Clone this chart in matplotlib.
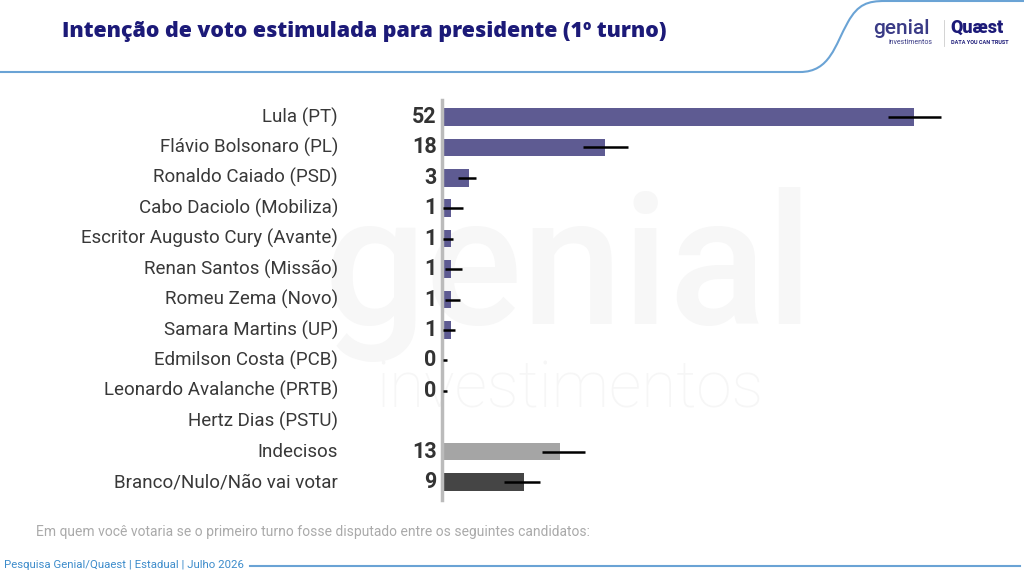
import numpy as np
import matplotlib.pyplot as plt
from matplotlib.path import Path
from matplotlib.patches import PathPatch

plt.rcParams['font.family'] = ['Roboto', 'DejaVu Sans']

# data
candidates = ['Lula (PT)', 'Flávio Bolsonaro (PL)', 'Ronaldo Caiado (PSD)',
              'Cabo Daciolo (Mobiliza)', 'Escritor Augusto Cury (Avante)',
              'Renan Santos (Missão)', 'Romeu Zema (Novo)', 'Samara Martins (UP)',
              'Edmilson Costa (PCB)', 'Leonardo Avalanche (PRTB)', 'Hertz Dias (PSTU)',
              'Indecisos', 'Branco/Nulo/Não vai votar']
values = [52, 18, 3, 1, 1, 1, 1, 1, 0, 0, None, 13, 9]
bar_len = [52.0, 18.0, 3.0, 1.0, 1.0, 1.0, 1.0, 1.0, 0.0, 0.0, 0.0, 13.0, 9.0]
err_low = [49.1, 15.5, 1.8, 0.1, 0.1, 0.3, 0.3, 0.1, 0.1, 0.1, None, 11.0, 6.8]
err_high = [55.0, 20.5, 3.7, 2.3, 1.2, 2.2, 2.0, 1.4, 0.5, 0.5, None, 15.8, 10.8]

purple = '#5e5b92'
colors = [purple] * 11 + ['#a5a5a5', '#454545']

fig = plt.figure(figsize=(10.24, 5.75), dpi=100)
W, H = 1024, 575

# background layer: header curve, footer line, watermark
bg = fig.add_axes([0, 0, 1, 1], zorder=-1)
bg.set_xlim(0, W)
bg.set_ylim(H, 0)
bg.axis('off')
curve = Path([(0, 72), (800, 72), (830, 72), (835, 45), (848, 22), (858, 4), (868, 1), (885, 1), (1024, 1)],
             [Path.MOVETO, Path.LINETO, Path.CURVE4, Path.CURVE4, Path.CURVE4,
              Path.CURVE4, Path.CURVE4, Path.CURVE4, Path.LINETO])
bg.add_patch(PathPatch(curve, fill=False, edgecolor='#6aa3d5', lw=1.5))
bg.plot([250, 1020], [566, 566], color='#6aa3d5', lw=1.5)
bg.plot([944, 944], [20, 46], color='#cccccc', lw=0.6)
bg.text(568, 275, 'genial', fontsize=130, color='#f7f7f7',
        ha='center', va='center', fontweight='medium')
bg.text(570, 390, 'investimentos', fontsize=46, color='#f6f6f6',
        ha='center', va='center', fontweight='light')

fig.text(62 / W, 1 - 31 / H, 'Intenção de voto estimulada para presidente (1º turno)',
         fontsize=15.4, fontweight='heavy', color='#1c1a78', va='center', ha='left',
         family='Open Sans')
fig.text(873 / W, 1 - 29 / H, 'genial', fontsize=15, fontweight='medium', color='#3a3b86',
         va='center', ha='left')
fig.text(889 / W, 1 - 42 / H, 'investimentos', fontsize=5, color='#3a3b86', va='center', ha='left')
fig.text(950 / W, 1 - 28 / H, 'Quæst', fontsize=13, fontweight='black', color='#1c1a78',
         va='center', ha='left')
fig.text(951 / W, 1 - 42 / H, 'DATA YOU CAN TRUST', fontsize=4, fontweight='bold',
         color='#1c1a78', va='center', ha='left')

fig.text(36 / W, 1 - 532 / H,
         'Em quem você votaria se o primeiro turno fosse disputado entre os seguintes candidatos:',
         fontsize=10, color='#aaaaaa', va='center', ha='left')
fig.text(4 / W, 1 - 565 / H, 'Pesquisa Genial/Quaest | Estadual | Julho 2026',
         fontsize=8.2, color='#3d8ccb', va='center', ha='left')

# main chart
ax_left, ax_right, ax_top, ax_bot = 442, 1000, 100, 500
ax = fig.add_axes([ax_left / W, 1 - ax_bot / H, (ax_right - ax_left) / W, (ax_bot - ax_top) / H])
ax.patch.set_alpha(0)
px_per_unit = 9.08
row_h = 30.42
ax.set_xlim(0, (ax_right - ax_left) / px_per_unit)
ax.set_ylim(12 + (ax_bot - 482) / row_h, -(117 - ax_top) / row_h)

y = np.arange(len(candidates))
ax.barh(y, bar_len, height=0.58, color=colors, zorder=2)
label_x = -(442 - 338) / px_per_unit
for i in range(len(candidates)):
    if err_low[i] is not None:
        ax.plot([err_low[i], err_high[i]], [i, i], color='black', lw=1.8, zorder=3,
                solid_capstyle='butt')
    ax.text(label_x, i, candidates[i], ha='right', va='center', fontsize=13.5, color='#383838')
    if values[i] is not None:
        ax.text(-0.6, i, str(values[i]), ha='right', va='center', fontsize=15.5,
                fontweight='bold', color='#333333')

for s in ['top', 'right', 'bottom']:
    ax.spines[s].set_visible(False)
ax.spines['left'].set_color('#bbbbbb')
ax.spines['left'].set_linewidth(2.5)
ax.set_xticks([])
ax.set_yticks([])

fig.savefig('out.png', dpi=100)
